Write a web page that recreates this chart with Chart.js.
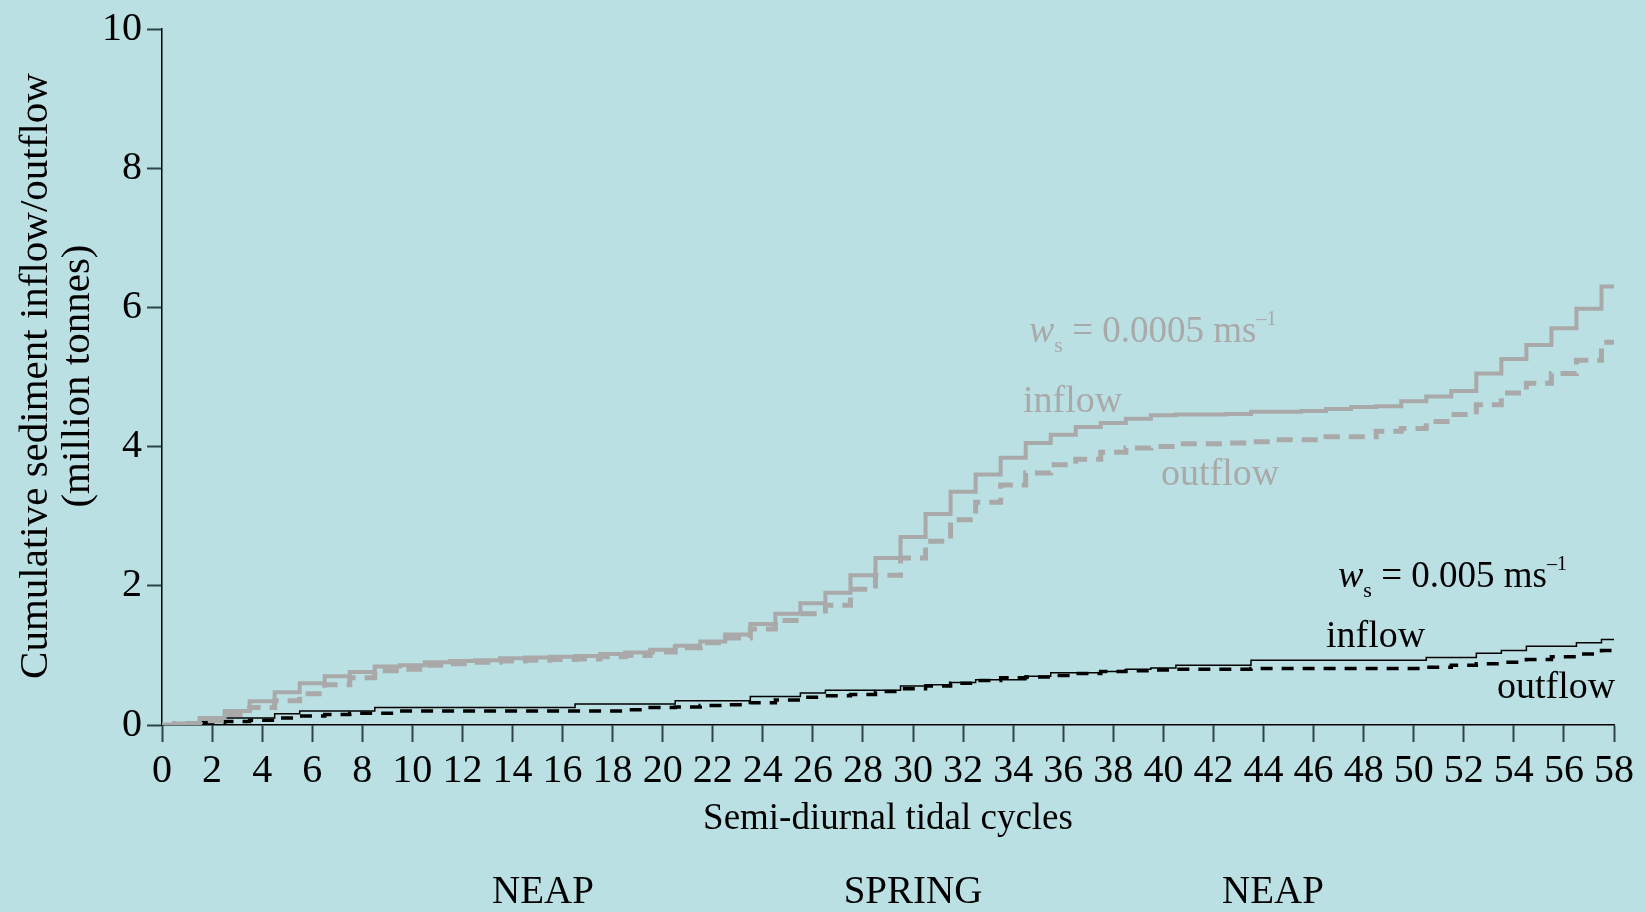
<!DOCTYPE html>
<html>
<head>
<meta charset="utf-8">
<script src="https://cdn.jsdelivr.net/npm/chart.js@4.4.1/dist/chart.umd.min.js"></script>
<style>
  html, body { margin: 0; padding: 0; background: #bae0e3; }
  canvas { display: block; }
</style>
</head>
<body>
<canvas id="tides" width="1646" height="912"></canvas>
<script>
const cycles = [0, 1, 2, 3, 4, 5, 6, 7, 8, 9, 10, 11, 12, 13, 14, 15, 16, 17, 18, 19,
	20, 21, 22, 23, 24, 25, 26, 27, 28, 29, 30, 31, 32, 33, 34, 35, 36, 37, 38, 39,
	40, 41, 42, 43, 44, 45, 46, 47, 48, 49, 50, 51, 52, 53, 54, 55, 56, 57, 58];

// ws = 0.0005 m/s (grey)
const inflowSlow = [0, 0.02, 0.1, 0.2, 0.34, 0.47, 0.6, 0.7, 0.76, 0.84,
	0.86, 0.9, 0.92, 0.93, 0.96, 0.97, 0.98, 0.99, 1.02, 1.04,
	1.08, 1.14, 1.2, 1.3, 1.45, 1.6, 1.75, 1.9, 2.15, 2.4,
	2.7, 3.03, 3.35, 3.6, 3.84, 4.05, 4.17, 4.28, 4.34, 4.4,
	4.45, 4.46, 4.46, 4.47, 4.5, 4.5, 4.51, 4.54, 4.57, 4.58,
	4.65, 4.72, 4.8, 5.05, 5.26, 5.46, 5.7, 5.98, 6.3];
const outflowSlow = [0, 0.02, 0.06, 0.15, 0.25, 0.35, 0.45, 0.58, 0.68, 0.78,
	0.8, 0.86, 0.88, 0.9, 0.92, 0.93, 0.94, 0.95, 0.98, 1.0,
	1.05, 1.11, 1.18, 1.25, 1.38, 1.5, 1.6, 1.72, 1.95, 2.15,
	2.4, 2.64, 2.95, 3.2, 3.45, 3.62, 3.74, 3.82, 3.92, 3.98,
	4.0, 4.04, 4.04, 4.05, 4.07, 4.1, 4.1, 4.14, 4.14, 4.22,
	4.26, 4.36, 4.46, 4.6, 4.77, 4.91, 5.05, 5.24, 5.5];

// ws = 0.005 m/s (black)
const inflowFast = [0, 0, 0.05, 0.1, 0.1, 0.16, 0.2, 0.2, 0.2, 0.25,
	0.25, 0.25, 0.25, 0.25, 0.25, 0.25, 0.25, 0.3, 0.3, 0.3,
	0.3, 0.35, 0.35, 0.35, 0.41, 0.41, 0.46, 0.5, 0.5, 0.5,
	0.56, 0.58, 0.61, 0.65, 0.65, 0.7, 0.75, 0.75, 0.77, 0.8,
	0.82, 0.86, 0.86, 0.86, 0.93, 0.93, 0.93, 0.93, 0.93, 0.93,
	0.93, 0.97, 0.97, 1.03, 1.07, 1.13, 1.13, 1.18, 1.23];
const outflowFast = [0, 0, 0.02, 0.05, 0.07, 0.1, 0.13, 0.15, 0.17, 0.17,
	0.2, 0.2, 0.2, 0.2, 0.2, 0.2, 0.2, 0.2, 0.2, 0.22,
	0.25, 0.26, 0.28, 0.29, 0.32, 0.36, 0.4, 0.42, 0.44, 0.48,
	0.52, 0.56, 0.6, 0.64, 0.68, 0.69, 0.71, 0.74, 0.77, 0.78,
	0.79, 0.8, 0.8, 0.8, 0.81, 0.81, 0.81, 0.81, 0.81, 0.81,
	0.81, 0.83, 0.86, 0.88, 0.9, 0.94, 0.98, 1.02, 1.07];

const phases = ["NEAP", "SPRING", "NEAP"];

const SERIF = '"Liberation Serif", "Times New Roman", serif';
const GREY = "#a9a9a9";
const BG = "#bae0e3";

function points(values) {
	return cycles.map((c, i) => ({ x: c, y: values[i] }));
}

function drawWs(ctx, x, y, value, color) {
	ctx.fillStyle = color;
	ctx.textAlign = "left";
	ctx.textBaseline = "alphabetic";
	ctx.font = "italic 38px " + SERIF;
	ctx.fillText("w", x, y);
	x += ctx.measureText("w").width;
	ctx.font = "22px " + SERIF;
	ctx.fillText("s", x, y + 10);
	x += ctx.measureText("s").width;
	ctx.font = "37px " + SERIF;
	const main = " = " + value + " ms";
	ctx.fillText(main, x, y);
	x += ctx.measureText(main).width;
	ctx.font = "20px " + SERIF;
	ctx.fillText("\u20131", x, y - 17);
}

const textPlugin = {
	id: "textPlugin",
	beforeDraw(chart) {
		const ctx = chart.ctx;
		ctx.save();
		ctx.fillStyle = BG;
		ctx.fillRect(0, 0, chart.width, chart.height);
		ctx.restore();
	},
	afterDraw(chart) {
		const ctx = chart.ctx;
		const area = chart.chartArea;
		ctx.save();

		// y title (two lines, rotated)
		ctx.fillStyle = "#000";
		ctx.font = "41px " + SERIF;
		ctx.textAlign = "center";
		ctx.textBaseline = "middle";
		const cy = 376;
		[["Cumulative sediment inflow/outflow", 36], ["(million tonnes)", 78]].forEach(([t, x]) => {
			ctx.save();
			ctx.translate(x, cy);
			ctx.rotate(-Math.PI / 2);
			ctx.fillText(t, 0, 0);
			ctx.restore();
		});

		// x title
		ctx.textBaseline = "alphabetic";
		ctx.font = "37px " + SERIF;
		ctx.fillText("Semi-diurnal tidal cycles", (area.left + area.right) / 2, 829);

		// tidal phase labels
		ctx.font = "39px " + SERIF;
		const phaseX = [543, 913, 1273];
		phases.forEach((p, i) => ctx.fillText(p, phaseX[i], 903));

		// series labels
		drawWs(ctx, 1029, 342, "0.0005", GREY);
		ctx.font = "38px " + SERIF;
		ctx.textAlign = "left";
		ctx.fillStyle = GREY;
		ctx.fillText("inflow", 1023, 412);
		ctx.fillText("outflow", 1161, 485);

		drawWs(ctx, 1338, 587, "0.005", "#000");
		ctx.font = "38px " + SERIF;
		ctx.textAlign = "left";
		ctx.fillStyle = "#000";
		ctx.fillText("inflow", 1326, 647);
		ctx.fillText("outflow", 1497, 698);
		ctx.restore();
	},
};

const ctx = document.getElementById("tides").getContext("2d");

new Chart(ctx, {
	type: "line",
	data: {
		datasets: [
			{
				label: "inflow 0.0005",
				data: points(inflowSlow),
				borderColor: GREY,
				borderWidth: 4,
				stepped: "middle",
			},
			{
				label: "outflow 0.0005",
				data: points(outflowSlow),
				borderColor: GREY,
				borderWidth: 5,
				borderDash: [16, 9],
				stepped: "middle",
			},
			{
				label: "inflow 0.005",
				data: points(inflowFast),
				borderColor: "#000",
				borderWidth: 1.5,
				stepped: "middle",
			},
			{
				label: "outflow 0.005",
				data: points(outflowFast),
				borderColor: "#000",
				borderWidth: 3.5,
				borderDash: [12, 9],
				stepped: "middle",
			},
		],
	},
	options: {
		responsive: false,
		animation: false,
		devicePixelRatio: 1,
		layout: { padding: { top: 21, right: 32, left: 0, bottom: 0 } },
		elements: { point: { radius: 0 }, line: { tension: 0, borderCapStyle: "butt" } },
		plugins: { legend: { display: false }, tooltip: { enabled: false } },
		scales: {
			x: {
				type: "linear",
				min: 0,
				max: 58,
				afterFit: (s) => { s.height = 187; },
				ticks: {
					stepSize: 2,
					autoSkip: false,
					maxRotation: 0,
					minRotation: 0,
					padding: 5,
					color: "#000",
					font: { family: SERIF, size: 40 },
				},
				grid: {
					drawOnChartArea: false,
					tickLength: 17,
					tickColor: "#2f4446",
					tickWidth: 2,
				},
				border: { color: "#000", width: 1.5 },
			},
			y: {
				min: 0,
				max: 10,
				afterFit: (s) => { s.width = 162; },
				ticks: {
					stepSize: 2,
					padding: 5,
					color: "#000",
					font: { family: SERIF, size: 40 },
				},
				grid: {
					drawOnChartArea: false,
					tickLength: 15,
					tickColor: "#2f4446",
					tickWidth: 2,
				},
				border: { color: "#000", width: 1.5 },
			},
		},
	},
	plugins: [textPlugin],
});
</script>
</body>
</html>
